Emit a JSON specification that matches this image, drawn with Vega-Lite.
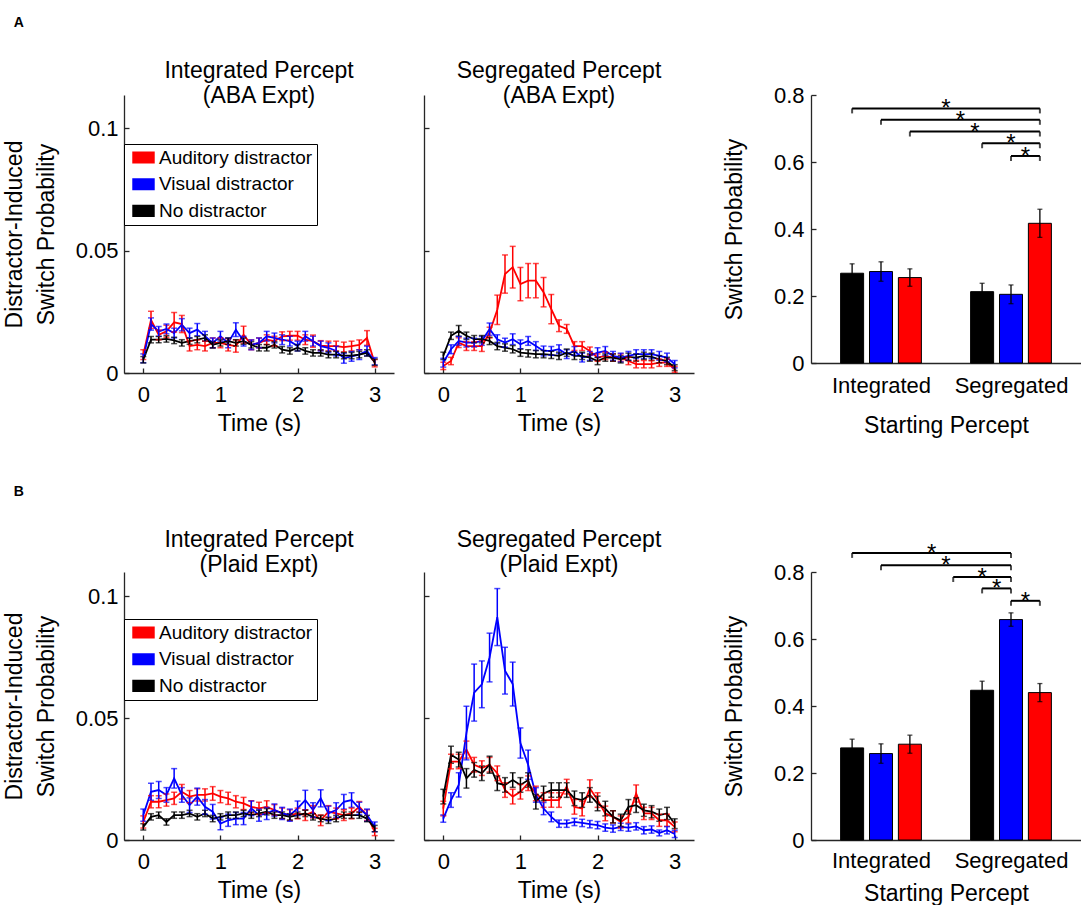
{
"$schema":"https://vega.github.io/schema/vega-lite/v6.json",
"padding":{"left":3,"top":16,"right":0,"bottom":0},
"config":{"font":"Liberation Sans","view":{"stroke":null},
"axis":{"domainColor":"#262626","tickColor":"#262626","labelColor":"black","titleColor":"black","labelFontSize":22,"titleFontSize":23,"titleFontWeight":"normal","grid":false,"tickSize":-5,"domainWidth":1.3,"tickWidth":1.3,"labelFlush":false},
"legend":{"orient":"none","legendX":0,"title":null,"strokeColor":"black","fillColor":"white","padding":4,"symbolOffset":6,"labelFontSize":19,"labelOffset":6,"rowPadding":6.7,"symbolType":"M-2,-0.9H2M-2,-0.6H2M-2,-0.3H2M-2,0H2M-2,0.3H2M-2,0.6H2M-2,0.9H2","symbolSize":126,"symbolStrokeWidth":2,"symbolOpacity":1,"labelColor":"black"},
"title":{"fontSize":23,"fontWeight":"normal","lineHeight":25,"color":"black"}},
"datasets":{
"A1":[
{"s":"Auditory distractor","t":0,"v":0.0075,"e":0.002},{"s":"Auditory distractor","t":0.1,"v":0.0217,"e":0.0035},{"s":"Auditory distractor","t":0.2,"v":0.0156,"e":0.002},{"s":"Auditory distractor","t":0.3,"v":0.017,"e":0.0025},{"s":"Auditory distractor","t":0.4,"v":0.0207,"e":0.004},{"s":"Auditory distractor","t":0.5,"v":0.02,"e":0.0035},{"s":"Auditory distractor","t":0.6,"v":0.011,"e":0.002},{"s":"Auditory distractor","t":0.7,"v":0.0115,"e":0.002},{"s":"Auditory distractor","t":0.8,"v":0.011,"e":0.002},{"s":"Auditory distractor","t":0.9,"v":0.0123,"e":0.002},{"s":"Auditory distractor","t":1,"v":0.0123,"e":0.002},{"s":"Auditory distractor","t":1.1,"v":0.0115,"e":0.0025},{"s":"Auditory distractor","t":1.2,"v":0.011,"e":0.0025},{"s":"Auditory distractor","t":1.3,"v":0.0156,"e":0.0035},{"s":"Auditory distractor","t":1.4,"v":0.0115,"e":0.002},{"s":"Auditory distractor","t":1.5,"v":0.0123,"e":0.002},{"s":"Auditory distractor","t":1.6,"v":0.0136,"e":0.002},{"s":"Auditory distractor","t":1.7,"v":0.013,"e":0.002},{"s":"Auditory distractor","t":1.8,"v":0.015,"e":0.0018},{"s":"Auditory distractor","t":1.9,"v":0.0152,"e":0.0018},{"s":"Auditory distractor","t":2,"v":0.0152,"e":0.0018},{"s":"Auditory distractor","t":2.1,"v":0.0136,"e":0.002},{"s":"Auditory distractor","t":2.2,"v":0.013,"e":0.0025},{"s":"Auditory distractor","t":2.3,"v":0.0112,"e":0.002},{"s":"Auditory distractor","t":2.4,"v":0.011,"e":0.002},{"s":"Auditory distractor","t":2.5,"v":0.011,"e":0.002},{"s":"Auditory distractor","t":2.6,"v":0.0106,"e":0.002},{"s":"Auditory distractor","t":2.7,"v":0.011,"e":0.002},{"s":"Auditory distractor","t":2.8,"v":0.0115,"e":0.002},{"s":"Auditory distractor","t":2.9,"v":0.0143,"e":0.003},{"s":"Auditory distractor","t":3,"v":0.004,"e":0.0015},
{"s":"Visual distractor","t":0,"v":0.006,"e":0.0018},{"s":"Visual distractor","t":0.1,"v":0.02,"e":0.0025},{"s":"Visual distractor","t":0.2,"v":0.017,"e":0.002},{"s":"Visual distractor","t":0.3,"v":0.018,"e":0.002},{"s":"Visual distractor","t":0.4,"v":0.0163,"e":0.002},{"s":"Visual distractor","t":0.5,"v":0.0197,"e":0.0025},{"s":"Visual distractor","t":0.6,"v":0.0163,"e":0.002},{"s":"Visual distractor","t":0.7,"v":0.0177,"e":0.0025},{"s":"Visual distractor","t":0.8,"v":0.015,"e":0.002},{"s":"Visual distractor","t":0.9,"v":0.0123,"e":0.002},{"s":"Visual distractor","t":1,"v":0.015,"e":0.002},{"s":"Visual distractor","t":1.1,"v":0.0123,"e":0.002},{"s":"Visual distractor","t":1.2,"v":0.0177,"e":0.0028},{"s":"Visual distractor","t":1.3,"v":0.013,"e":0.002},{"s":"Visual distractor","t":1.4,"v":0.0115,"e":0.002},{"s":"Visual distractor","t":1.5,"v":0.0123,"e":0.002},{"s":"Visual distractor","t":1.6,"v":0.015,"e":0.002},{"s":"Visual distractor","t":1.7,"v":0.0143,"e":0.002},{"s":"Visual distractor","t":1.8,"v":0.0136,"e":0.002},{"s":"Visual distractor","t":1.9,"v":0.013,"e":0.002},{"s":"Visual distractor","t":2,"v":0.011,"e":0.002},{"s":"Visual distractor","t":2.1,"v":0.015,"e":0.002},{"s":"Visual distractor","t":2.2,"v":0.013,"e":0.002},{"s":"Visual distractor","t":2.3,"v":0.011,"e":0.002},{"s":"Visual distractor","t":2.4,"v":0.0103,"e":0.002},{"s":"Visual distractor","t":2.5,"v":0.009,"e":0.002},{"s":"Visual distractor","t":2.6,"v":0.006,"e":0.002},{"s":"Visual distractor","t":2.7,"v":0.0068,"e":0.002},{"s":"Visual distractor","t":2.8,"v":0.0075,"e":0.002},{"s":"Visual distractor","t":2.9,"v":0.009,"e":0.002},{"s":"Visual distractor","t":3,"v":0.0048,"e":0.0015},
{"s":"No distractor","t":0,"v":0.0054,"e":0.0013},{"s":"No distractor","t":0.1,"v":0.0136,"e":0.0013},{"s":"No distractor","t":0.2,"v":0.0136,"e":0.0013},{"s":"No distractor","t":0.3,"v":0.0139,"e":0.0013},{"s":"No distractor","t":0.4,"v":0.0133,"e":0.0013},{"s":"No distractor","t":0.5,"v":0.0123,"e":0.0013},{"s":"No distractor","t":0.6,"v":0.013,"e":0.0013},{"s":"No distractor","t":0.7,"v":0.0136,"e":0.0013},{"s":"No distractor","t":0.8,"v":0.0143,"e":0.0013},{"s":"No distractor","t":0.9,"v":0.0115,"e":0.0013},{"s":"No distractor","t":1,"v":0.0123,"e":0.0013},{"s":"No distractor","t":1.1,"v":0.013,"e":0.0013},{"s":"No distractor","t":1.2,"v":0.0123,"e":0.0013},{"s":"No distractor","t":1.3,"v":0.013,"e":0.0013},{"s":"No distractor","t":1.4,"v":0.0115,"e":0.0013},{"s":"No distractor","t":1.5,"v":0.0103,"e":0.0013},{"s":"No distractor","t":1.6,"v":0.0103,"e":0.0013},{"s":"No distractor","t":1.7,"v":0.0115,"e":0.0013},{"s":"No distractor","t":1.8,"v":0.0095,"e":0.0013},{"s":"No distractor","t":1.9,"v":0.009,"e":0.0013},{"s":"No distractor","t":2,"v":0.0103,"e":0.0013},{"s":"No distractor","t":2.1,"v":0.009,"e":0.0013},{"s":"No distractor","t":2.2,"v":0.0082,"e":0.0013},{"s":"No distractor","t":2.3,"v":0.0082,"e":0.0013},{"s":"No distractor","t":2.4,"v":0.0075,"e":0.0013},{"s":"No distractor","t":2.5,"v":0.0075,"e":0.0013},{"s":"No distractor","t":2.6,"v":0.0071,"e":0.0013},{"s":"No distractor","t":2.7,"v":0.0071,"e":0.0013},{"s":"No distractor","t":2.8,"v":0.0075,"e":0.0013},{"s":"No distractor","t":2.9,"v":0.0082,"e":0.0013},{"s":"No distractor","t":3,"v":0.0044,"e":0.0013}
],
"A2":[
{"s":"Auditory distractor","t":0,"v":0.0029,"e":0.0015},{"s":"Auditory distractor","t":0.1,"v":0.0049,"e":0.0015},{"s":"Auditory distractor","t":0.2,"v":0.0124,"e":0.002},{"s":"Auditory distractor","t":0.3,"v":0.011,"e":0.0018},{"s":"Auditory distractor","t":0.4,"v":0.011,"e":0.0018},{"s":"Auditory distractor","t":0.5,"v":0.011,"e":0.0022},{"s":"Auditory distractor","t":0.6,"v":0.0165,"e":0.0022},{"s":"Auditory distractor","t":0.7,"v":0.0258,"e":0.006},{"s":"Auditory distractor","t":0.8,"v":0.0404,"e":0.0078},{"s":"Auditory distractor","t":0.9,"v":0.0432,"e":0.0085},{"s":"Auditory distractor","t":1,"v":0.0363,"e":0.0068},{"s":"Auditory distractor","t":1.1,"v":0.0377,"e":0.007},{"s":"Auditory distractor","t":1.2,"v":0.0377,"e":0.007},{"s":"Auditory distractor","t":1.3,"v":0.033,"e":0.006},{"s":"Auditory distractor","t":1.4,"v":0.0261,"e":0.006},{"s":"Auditory distractor","t":1.5,"v":0.0193,"e":0.0024},{"s":"Auditory distractor","t":1.6,"v":0.018,"e":0.0018},{"s":"Auditory distractor","t":1.7,"v":0.011,"e":0.0018},{"s":"Auditory distractor","t":1.8,"v":0.011,"e":0.0018},{"s":"Auditory distractor","t":1.9,"v":0.009,"e":0.0016},{"s":"Auditory distractor","t":2,"v":0.0063,"e":0.0015},{"s":"Auditory distractor","t":2.1,"v":0.007,"e":0.0015},{"s":"Auditory distractor","t":2.2,"v":0.0063,"e":0.0015},{"s":"Auditory distractor","t":2.3,"v":0.0063,"e":0.0015},{"s":"Auditory distractor","t":2.4,"v":0.0049,"e":0.0015},{"s":"Auditory distractor","t":2.5,"v":0.0036,"e":0.0015},{"s":"Auditory distractor","t":2.6,"v":0.0036,"e":0.0015},{"s":"Auditory distractor","t":2.7,"v":0.0036,"e":0.0015},{"s":"Auditory distractor","t":2.8,"v":0.0042,"e":0.0015},{"s":"Auditory distractor","t":2.9,"v":0.0042,"e":0.0015},{"s":"Auditory distractor","t":3,"v":0.0015,"e":0.0012},
{"s":"Visual distractor","t":0,"v":0.0042,"e":0.0018},{"s":"Visual distractor","t":0.1,"v":0.0097,"e":0.0018},{"s":"Visual distractor","t":0.2,"v":0.0131,"e":0.0018},{"s":"Visual distractor","t":0.3,"v":0.0124,"e":0.0018},{"s":"Visual distractor","t":0.4,"v":0.0124,"e":0.0018},{"s":"Visual distractor","t":0.5,"v":0.0131,"e":0.0018},{"s":"Visual distractor","t":0.6,"v":0.0179,"e":0.0025},{"s":"Visual distractor","t":0.7,"v":0.0138,"e":0.0018},{"s":"Visual distractor","t":0.8,"v":0.0124,"e":0.0018},{"s":"Visual distractor","t":0.9,"v":0.0138,"e":0.0022},{"s":"Visual distractor","t":1,"v":0.0117,"e":0.0018},{"s":"Visual distractor","t":1.1,"v":0.0131,"e":0.0018},{"s":"Visual distractor","t":1.2,"v":0.011,"e":0.0018},{"s":"Visual distractor","t":1.3,"v":0.009,"e":0.002},{"s":"Visual distractor","t":1.4,"v":0.009,"e":0.0018},{"s":"Visual distractor","t":1.5,"v":0.0097,"e":0.0018},{"s":"Visual distractor","t":1.6,"v":0.0077,"e":0.0018},{"s":"Visual distractor","t":1.7,"v":0.009,"e":0.0018},{"s":"Visual distractor","t":1.8,"v":0.0063,"e":0.0018},{"s":"Visual distractor","t":1.9,"v":0.007,"e":0.0018},{"s":"Visual distractor","t":2,"v":0.0083,"e":0.002},{"s":"Visual distractor","t":2.1,"v":0.009,"e":0.0018},{"s":"Visual distractor","t":2.2,"v":0.007,"e":0.0018},{"s":"Visual distractor","t":2.3,"v":0.0063,"e":0.0018},{"s":"Visual distractor","t":2.4,"v":0.007,"e":0.0018},{"s":"Visual distractor","t":2.5,"v":0.0077,"e":0.0018},{"s":"Visual distractor","t":2.6,"v":0.0077,"e":0.0018},{"s":"Visual distractor","t":2.7,"v":0.0077,"e":0.0018},{"s":"Visual distractor","t":2.8,"v":0.007,"e":0.0018},{"s":"Visual distractor","t":2.9,"v":0.0063,"e":0.0018},{"s":"Visual distractor","t":3,"v":0.0036,"e":0.0015},
{"s":"No distractor","t":0,"v":0.007,"e":0.0015},{"s":"No distractor","t":0.1,"v":0.0152,"e":0.0015},{"s":"No distractor","t":0.2,"v":0.0172,"e":0.0022},{"s":"No distractor","t":0.3,"v":0.0152,"e":0.0015},{"s":"No distractor","t":0.4,"v":0.0138,"e":0.0015},{"s":"No distractor","t":0.5,"v":0.0138,"e":0.0015},{"s":"No distractor","t":0.6,"v":0.0131,"e":0.0015},{"s":"No distractor","t":0.7,"v":0.011,"e":0.0015},{"s":"No distractor","t":0.8,"v":0.0104,"e":0.0015},{"s":"No distractor","t":0.9,"v":0.0097,"e":0.0015},{"s":"No distractor","t":1,"v":0.0083,"e":0.0015},{"s":"No distractor","t":1.1,"v":0.008,"e":0.0015},{"s":"No distractor","t":1.2,"v":0.0077,"e":0.0015},{"s":"No distractor","t":1.3,"v":0.0077,"e":0.0015},{"s":"No distractor","t":1.4,"v":0.0074,"e":0.0015},{"s":"No distractor","t":1.5,"v":0.007,"e":0.0015},{"s":"No distractor","t":1.6,"v":0.0083,"e":0.0015},{"s":"No distractor","t":1.7,"v":0.007,"e":0.0015},{"s":"No distractor","t":1.8,"v":0.007,"e":0.0015},{"s":"No distractor","t":1.9,"v":0.0063,"e":0.0015},{"s":"No distractor","t":2,"v":0.0049,"e":0.0015},{"s":"No distractor","t":2.1,"v":0.0063,"e":0.0015},{"s":"No distractor","t":2.2,"v":0.0063,"e":0.0015},{"s":"No distractor","t":2.3,"v":0.0056,"e":0.0015},{"s":"No distractor","t":2.4,"v":0.0066,"e":0.0015},{"s":"No distractor","t":2.5,"v":0.0063,"e":0.0015},{"s":"No distractor","t":2.6,"v":0.007,"e":0.0015},{"s":"No distractor","t":2.7,"v":0.0066,"e":0.0015},{"s":"No distractor","t":2.8,"v":0.0056,"e":0.0015},{"s":"No distractor","t":2.9,"v":0.0049,"e":0.0015},{"s":"No distractor","t":3,"v":0.0022,"e":0.0012}
],
"B1":[
{"s":"Auditory distractor","t":0,"v":0.0074,"e":0.0025},{"s":"Auditory distractor","t":0.1,"v":0.0157,"e":0.0025},{"s":"Auditory distractor","t":0.2,"v":0.0157,"e":0.0025},{"s":"Auditory distractor","t":0.3,"v":0.0164,"e":0.0025},{"s":"Auditory distractor","t":0.4,"v":0.0171,"e":0.0025},{"s":"Auditory distractor","t":0.5,"v":0.0198,"e":0.003},{"s":"Auditory distractor","t":0.6,"v":0.0178,"e":0.0025},{"s":"Auditory distractor","t":0.7,"v":0.0185,"e":0.0025},{"s":"Auditory distractor","t":0.8,"v":0.0185,"e":0.0025},{"s":"Auditory distractor","t":0.9,"v":0.0191,"e":0.0028},{"s":"Auditory distractor","t":1,"v":0.0178,"e":0.0025},{"s":"Auditory distractor","t":1.1,"v":0.0171,"e":0.0025},{"s":"Auditory distractor","t":1.2,"v":0.0157,"e":0.0025},{"s":"Auditory distractor","t":1.3,"v":0.015,"e":0.0025},{"s":"Auditory distractor","t":1.4,"v":0.0136,"e":0.0025},{"s":"Auditory distractor","t":1.5,"v":0.013,"e":0.0025},{"s":"Auditory distractor","t":1.6,"v":0.0136,"e":0.0025},{"s":"Auditory distractor","t":1.7,"v":0.0123,"e":0.0022},{"s":"Auditory distractor","t":1.8,"v":0.0109,"e":0.0022},{"s":"Auditory distractor","t":1.9,"v":0.0102,"e":0.0022},{"s":"Auditory distractor","t":2,"v":0.0109,"e":0.0022},{"s":"Auditory distractor","t":2.1,"v":0.0102,"e":0.0022},{"s":"Auditory distractor","t":2.2,"v":0.0116,"e":0.0025},{"s":"Auditory distractor","t":2.3,"v":0.0081,"e":0.0022},{"s":"Auditory distractor","t":2.4,"v":0.0116,"e":0.0025},{"s":"Auditory distractor","t":2.5,"v":0.0109,"e":0.0022},{"s":"Auditory distractor","t":2.6,"v":0.0102,"e":0.0022},{"s":"Auditory distractor","t":2.7,"v":0.0109,"e":0.0022},{"s":"Auditory distractor","t":2.8,"v":0.0136,"e":0.0022},{"s":"Auditory distractor","t":2.9,"v":0.0102,"e":0.0022},{"s":"Auditory distractor","t":3,"v":0.0033,"e":0.0015},
{"s":"Visual distractor","t":0,"v":0.0102,"e":0.0025},{"s":"Visual distractor","t":0.1,"v":0.0198,"e":0.0035},{"s":"Visual distractor","t":0.2,"v":0.0205,"e":0.0035},{"s":"Visual distractor","t":0.3,"v":0.0185,"e":0.003},{"s":"Visual distractor","t":0.4,"v":0.0253,"e":0.004},{"s":"Visual distractor","t":0.5,"v":0.0185,"e":0.003},{"s":"Visual distractor","t":0.6,"v":0.0143,"e":0.003},{"s":"Visual distractor","t":0.7,"v":0.0178,"e":0.0035},{"s":"Visual distractor","t":0.8,"v":0.0136,"e":0.003},{"s":"Visual distractor","t":0.9,"v":0.0116,"e":0.003},{"s":"Visual distractor","t":1,"v":0.0067,"e":0.0025},{"s":"Visual distractor","t":1.1,"v":0.0081,"e":0.0025},{"s":"Visual distractor","t":1.2,"v":0.0088,"e":0.0025},{"s":"Visual distractor","t":1.3,"v":0.0088,"e":0.0025},{"s":"Visual distractor","t":1.4,"v":0.013,"e":0.003},{"s":"Visual distractor","t":1.5,"v":0.0102,"e":0.0025},{"s":"Visual distractor","t":1.6,"v":0.0109,"e":0.0025},{"s":"Visual distractor","t":1.7,"v":0.0123,"e":0.0025},{"s":"Visual distractor","t":1.8,"v":0.0109,"e":0.0025},{"s":"Visual distractor","t":1.9,"v":0.0102,"e":0.0025},{"s":"Visual distractor","t":2,"v":0.013,"e":0.003},{"s":"Visual distractor","t":2.1,"v":0.0164,"e":0.004},{"s":"Visual distractor","t":2.2,"v":0.0123,"e":0.003},{"s":"Visual distractor","t":2.3,"v":0.0171,"e":0.0035},{"s":"Visual distractor","t":2.4,"v":0.0109,"e":0.003},{"s":"Visual distractor","t":2.5,"v":0.0123,"e":0.003},{"s":"Visual distractor","t":2.6,"v":0.0157,"e":0.003},{"s":"Visual distractor","t":2.7,"v":0.0164,"e":0.003},{"s":"Visual distractor","t":2.8,"v":0.013,"e":0.0025},{"s":"Visual distractor","t":2.9,"v":0.0102,"e":0.0025},{"s":"Visual distractor","t":3,"v":0.0054,"e":0.002},
{"s":"No distractor","t":0,"v":0.0054,"e":0.0013},{"s":"No distractor","t":0.1,"v":0.0095,"e":0.0013},{"s":"No distractor","t":0.2,"v":0.0102,"e":0.0013},{"s":"No distractor","t":0.3,"v":0.0074,"e":0.0013},{"s":"No distractor","t":0.4,"v":0.0102,"e":0.0013},{"s":"No distractor","t":0.5,"v":0.0102,"e":0.0013},{"s":"No distractor","t":0.6,"v":0.0109,"e":0.0013},{"s":"No distractor","t":0.7,"v":0.0095,"e":0.0013},{"s":"No distractor","t":0.8,"v":0.0109,"e":0.0013},{"s":"No distractor","t":0.9,"v":0.0088,"e":0.0013},{"s":"No distractor","t":1,"v":0.0095,"e":0.0013},{"s":"No distractor","t":1.1,"v":0.0102,"e":0.0013},{"s":"No distractor","t":1.2,"v":0.0102,"e":0.0013},{"s":"No distractor","t":1.3,"v":0.0109,"e":0.0013},{"s":"No distractor","t":1.4,"v":0.0102,"e":0.0013},{"s":"No distractor","t":1.5,"v":0.0109,"e":0.0013},{"s":"No distractor","t":1.6,"v":0.0116,"e":0.0013},{"s":"No distractor","t":1.7,"v":0.0102,"e":0.0013},{"s":"No distractor","t":1.8,"v":0.0102,"e":0.0013},{"s":"No distractor","t":1.9,"v":0.0095,"e":0.0013},{"s":"No distractor","t":2,"v":0.0102,"e":0.0013},{"s":"No distractor","t":2.1,"v":0.0109,"e":0.0013},{"s":"No distractor","t":2.2,"v":0.0095,"e":0.0013},{"s":"No distractor","t":2.3,"v":0.0088,"e":0.0013},{"s":"No distractor","t":2.4,"v":0.0081,"e":0.0013},{"s":"No distractor","t":2.5,"v":0.0088,"e":0.0013},{"s":"No distractor","t":2.6,"v":0.0102,"e":0.0013},{"s":"No distractor","t":2.7,"v":0.0102,"e":0.0013},{"s":"No distractor","t":2.8,"v":0.0102,"e":0.0013},{"s":"No distractor","t":2.9,"v":0.0088,"e":0.0013},{"s":"No distractor","t":3,"v":0.0047,"e":0.0013}
],
"B2":[
{"s":"Auditory distractor","t":0,"v":0.0129,"e":0.003},{"s":"Auditory distractor","t":0.1,"v":0.0322,"e":0.003},{"s":"Auditory distractor","t":0.2,"v":0.0322,"e":0.003},{"s":"Auditory distractor","t":0.3,"v":0.0371,"e":0.0035},{"s":"Auditory distractor","t":0.4,"v":0.0309,"e":0.003},{"s":"Auditory distractor","t":0.5,"v":0.0295,"e":0.003},{"s":"Auditory distractor","t":0.6,"v":0.0309,"e":0.003},{"s":"Auditory distractor","t":0.7,"v":0.0274,"e":0.003},{"s":"Auditory distractor","t":0.8,"v":0.0205,"e":0.003},{"s":"Auditory distractor","t":0.9,"v":0.0178,"e":0.003},{"s":"Auditory distractor","t":1,"v":0.0198,"e":0.003},{"s":"Auditory distractor","t":1.1,"v":0.0233,"e":0.003},{"s":"Auditory distractor","t":1.2,"v":0.0191,"e":0.003},{"s":"Auditory distractor","t":1.3,"v":0.0164,"e":0.003},{"s":"Auditory distractor","t":1.4,"v":0.0164,"e":0.003},{"s":"Auditory distractor","t":1.5,"v":0.0164,"e":0.003},{"s":"Auditory distractor","t":1.6,"v":0.0219,"e":0.003},{"s":"Auditory distractor","t":1.7,"v":0.0136,"e":0.003},{"s":"Auditory distractor","t":1.8,"v":0.0129,"e":0.003},{"s":"Auditory distractor","t":1.9,"v":0.0212,"e":0.0035},{"s":"Auditory distractor","t":2,"v":0.0164,"e":0.003},{"s":"Auditory distractor","t":2.1,"v":0.0109,"e":0.003},{"s":"Auditory distractor","t":2.2,"v":0.0095,"e":0.0025},{"s":"Auditory distractor","t":2.3,"v":0.0074,"e":0.0025},{"s":"Auditory distractor","t":2.4,"v":0.0095,"e":0.0025},{"s":"Auditory distractor","t":2.5,"v":0.0191,"e":0.0035},{"s":"Auditory distractor","t":2.6,"v":0.0109,"e":0.0025},{"s":"Auditory distractor","t":2.7,"v":0.0109,"e":0.0025},{"s":"Auditory distractor","t":2.8,"v":0.0081,"e":0.0025},{"s":"Auditory distractor","t":2.9,"v":0.0081,"e":0.0025},{"s":"Auditory distractor","t":3,"v":0.0054,"e":0.002},
{"s":"Visual distractor","t":0,"v":0.0088,"e":0.0015},{"s":"Visual distractor","t":0.1,"v":0.0164,"e":0.003},{"s":"Visual distractor","t":0.2,"v":0.0226,"e":0.005},{"s":"Visual distractor","t":0.3,"v":0.0439,"e":0.011},{"s":"Visual distractor","t":0.4,"v":0.0605,"e":0.0117},{"s":"Visual distractor","t":0.5,"v":0.0639,"e":0.0096},{"s":"Visual distractor","t":0.6,"v":0.0749,"e":0.01},{"s":"Visual distractor","t":0.7,"v":0.0915,"e":0.0117},{"s":"Visual distractor","t":0.8,"v":0.0695,"e":0.0096},{"s":"Visual distractor","t":0.9,"v":0.064,"e":0.009},{"s":"Visual distractor","t":1,"v":0.0398,"e":0.0062},{"s":"Visual distractor","t":1.1,"v":0.0309,"e":0.006},{"s":"Visual distractor","t":1.2,"v":0.0185,"e":0.003},{"s":"Visual distractor","t":1.3,"v":0.0129,"e":0.0025},{"s":"Visual distractor","t":1.4,"v":0.0095,"e":0.002},{"s":"Visual distractor","t":1.5,"v":0.0067,"e":0.0015},{"s":"Visual distractor","t":1.6,"v":0.0067,"e":0.0015},{"s":"Visual distractor","t":1.7,"v":0.0074,"e":0.0015},{"s":"Visual distractor","t":1.8,"v":0.007,"e":0.0015},{"s":"Visual distractor","t":1.9,"v":0.0065,"e":0.0015},{"s":"Visual distractor","t":2,"v":0.0061,"e":0.0015},{"s":"Visual distractor","t":2.1,"v":0.0051,"e":0.0015},{"s":"Visual distractor","t":2.2,"v":0.0047,"e":0.0015},{"s":"Visual distractor","t":2.3,"v":0.0054,"e":0.0015},{"s":"Visual distractor","t":2.4,"v":0.0051,"e":0.0015},{"s":"Visual distractor","t":2.5,"v":0.0056,"e":0.0015},{"s":"Visual distractor","t":2.6,"v":0.004,"e":0.0015},{"s":"Visual distractor","t":2.7,"v":0.0043,"e":0.0015},{"s":"Visual distractor","t":2.8,"v":0.0029,"e":0.0012},{"s":"Visual distractor","t":2.9,"v":0.004,"e":0.0015},{"s":"Visual distractor","t":3,"v":0.0025,"e":0.0015},
{"s":"No distractor","t":0,"v":0.0178,"e":0.003},{"s":"No distractor","t":0.1,"v":0.035,"e":0.0035},{"s":"No distractor","t":0.2,"v":0.033,"e":0.003},{"s":"No distractor","t":0.3,"v":0.0253,"e":0.004},{"s":"No distractor","t":0.4,"v":0.0288,"e":0.003},{"s":"No distractor","t":0.5,"v":0.0274,"e":0.003},{"s":"No distractor","t":0.6,"v":0.0309,"e":0.0035},{"s":"No distractor","t":0.7,"v":0.0233,"e":0.003},{"s":"No distractor","t":0.8,"v":0.0226,"e":0.003},{"s":"No distractor","t":0.9,"v":0.0246,"e":0.003},{"s":"No distractor","t":1,"v":0.0226,"e":0.003},{"s":"No distractor","t":1.1,"v":0.0246,"e":0.003},{"s":"No distractor","t":1.2,"v":0.0157,"e":0.003},{"s":"No distractor","t":1.3,"v":0.0191,"e":0.003},{"s":"No distractor","t":1.4,"v":0.0205,"e":0.003},{"s":"No distractor","t":1.5,"v":0.0205,"e":0.003},{"s":"No distractor","t":1.6,"v":0.0205,"e":0.003},{"s":"No distractor","t":1.7,"v":0.0171,"e":0.003},{"s":"No distractor","t":1.8,"v":0.0164,"e":0.003},{"s":"No distractor","t":1.9,"v":0.0185,"e":0.003},{"s":"No distractor","t":2,"v":0.015,"e":0.003},{"s":"No distractor","t":2.1,"v":0.0129,"e":0.003},{"s":"No distractor","t":2.2,"v":0.0095,"e":0.0025},{"s":"No distractor","t":2.3,"v":0.0081,"e":0.0025},{"s":"No distractor","t":2.4,"v":0.0136,"e":0.003},{"s":"No distractor","t":2.5,"v":0.0143,"e":0.003},{"s":"No distractor","t":2.6,"v":0.0122,"e":0.0025},{"s":"No distractor","t":2.7,"v":0.0116,"e":0.0025},{"s":"No distractor","t":2.8,"v":0.0102,"e":0.0025},{"s":"No distractor","t":2.9,"v":0.0109,"e":0.0025},{"s":"No distractor","t":3,"v":0.0067,"e":0.002}
],
"barA":[
{"g":"Integrated","s":"No distractor","pos":1,"v":0.268,"e":0.028},{"g":"Integrated","s":"Visual distractor","pos":2,"v":0.273,"e":0.029},{"g":"Integrated","s":"Auditory distractor","pos":3,"v":0.255,"e":0.026},
{"g":"Segregated","s":"No distractor","pos":5.5,"v":0.213,"e":0.025},{"g":"Segregated","s":"Visual distractor","pos":6.5,"v":0.205,"e":0.028},{"g":"Segregated","s":"Auditory distractor","pos":7.5,"v":0.417,"e":0.042}
],
"barB":[
{"g":"Integrated","s":"No distractor","pos":1,"v":0.275,"e":0.026},{"g":"Integrated","s":"Visual distractor","pos":2,"v":0.258,"e":0.029},{"g":"Integrated","s":"Auditory distractor","pos":3,"v":0.286,"e":0.027},
{"g":"Segregated","s":"No distractor","pos":5.5,"v":0.447,"e":0.027},{"g":"Segregated","s":"Visual distractor","pos":6.5,"v":0.658,"e":0.02},{"g":"Segregated","s":"Auditory distractor","pos":7.5,"v":0.44,"e":0.027}
],
"brA":[
{"x1":1,"x2":7.5,"m":4.25,"y":0.76},{"x1":2,"x2":7.5,"m":4.75,"y":0.726},{"x1":3,"x2":7.5,"m":5.25,"y":0.691},{"x1":5.5,"x2":7.5,"m":6.5,"y":0.656},{"x1":6.5,"x2":7.5,"m":7,"y":0.618}
],
"brB":[
{"x1":1,"x2":6.5,"m":3.75,"y":0.857},{"x1":2,"x2":6.5,"m":4.25,"y":0.82},{"x1":4.5,"x2":6.5,"m":5.5,"y":0.785},{"x1":5.5,"x2":6.5,"m":6,"y":0.751},{"x1":6.5,"x2":7.5,"m":7,"y":0.714}
]
},
"resolve":{"scale":{"color":"independent"},"legend":{"color":"independent"}},
"spacing":48,
"vconcat":[
{"title":{"text":"A","anchor":"start","fontSize":14,"fontWeight":"bold","offset":30,"dx":10},
"spacing":29,
"resolve":{"scale":{"color":"independent"},"legend":{"color":"independent"}},
"hconcat":[
{"width":270,"height":278,"title":{"text":["Integrated Percept","(ABA Expt)"],"offset":-13},
"data":{"name":"A1"},
"encoding":{
"x":{"field":"t","type":"quantitative","scale":{"domain":[-0.25,3.25],"nice":false},"axis":{"values":[0,1,2,3],"format":"d","title":"Time (s)","labelPadding":16,"titlePadding":7}},
"y":{"field":"v","type":"quantitative","scale":{"domain":[0,0.1135],"nice":false},"axis":{"values":[0,0.05,0.1],"format":".2~f","title":["Distractor-Induced","Switch Probability"],"titleLineHeight":31.5,"labelPadding":11,"titlePadding":17}},
"color":{"field":"s","type":"nominal","scale":{"domain":["Auditory distractor","Visual distractor","No distractor"],"range":["#ff0000","#0000ff","#000000"]},
"legend":{"legendY":49}}},
"layer":[
{"mark":{"type":"line","strokeWidth":1.8}},
{"mark":{"type":"errorbar","ticks":{"size":6},"thickness":1.5},"encoding":{"yError":{"field":"e"}}}
]},
{"width":270,"height":278,"title":{"text":["Segregated Percept","(ABA Expt)"],"offset":-13},
"data":{"name":"A2"},
"encoding":{
"x":{"field":"t","type":"quantitative","scale":{"domain":[-0.25,3.25],"nice":false},"axis":{"values":[0,1,2,3],"format":"d","title":"Time (s)","labelPadding":16,"titlePadding":7}},
"y":{"field":"v","type":"quantitative","scale":{"domain":[0,0.1135],"nice":false},"axis":{"values":[0,0.05,0.1],"labels":false,"title":null}},
"color":{"field":"s","type":"nominal","scale":{"domain":["Auditory distractor","Visual distractor","No distractor"],"range":["#ff0000","#0000ff","#000000"]},"legend":null}},
"layer":[
{"mark":{"type":"line","strokeWidth":1.8}},
{"mark":{"type":"errorbar","ticks":{"size":6},"thickness":1.5},"encoding":{"yError":{"field":"e"}}}
]},
{"width":270,"height":268,
"layer":[
{"data":{"name":"barA"},"mark":{"type":"bar","size":23,"stroke":"black","strokeWidth":1},
"encoding":{"x":{"field":"pos","type":"quantitative","scale":{"domain":[-0.25,8.75],"nice":false},"axis":{"values":[2,6.5],"labelExpr":"datum.value == 2 ? 'Integrated' : 'Segregated'","ticks":false,"title":"Starting Percept","labelPadding":12,"titlePadding":18}},
"y":{"field":"v","type":"quantitative","scale":{"domain":[0,0.8],"nice":false},"axis":{"values":[0,0.2,0.4,0.6,0.8],"format":".1~f","title":"Switch Probability","labelPadding":12,"titlePadding":27}},
"color":{"field":"s","type":"nominal","scale":{"domain":["Auditory distractor","Visual distractor","No distractor"],"range":["#ff0000","#0000ff","#000000"]},"legend":null}}},
{"data":{"name":"barA"},"mark":{"type":"errorbar","ticks":{"size":5},"color":"black","thickness":1.3},
"encoding":{"x":{"field":"pos","type":"quantitative","title":"Starting Percept"},"y":{"field":"v","type":"quantitative","title":"Switch Probability"},"yError":{"field":"e"}}},
{"data":{"name":"brA"},"mark":{"type":"rule","color":"black","strokeWidth":2},
"encoding":{"x":{"field":"x1","type":"quantitative","title":"Starting Percept"},"x2":{"field":"x2"},"y":{"field":"y","type":"quantitative","title":"Switch Probability"}}},
{"data":{"name":"brA"},"mark":{"type":"tick","orient":"vertical","size":5,"thickness":2,"yOffset":2.5,"color":"black"},
"encoding":{"x":{"field":"x1","type":"quantitative","title":"Starting Percept"},"y":{"field":"y","type":"quantitative","title":"Switch Probability"}}},
{"data":{"name":"brA"},"mark":{"type":"tick","orient":"vertical","size":5,"thickness":2,"yOffset":2.5,"color":"black"},
"encoding":{"x":{"field":"x2","type":"quantitative","title":"Starting Percept"},"y":{"field":"y","type":"quantitative","title":"Switch Probability"}}},
{"data":{"name":"brA"},"mark":{"type":"text","text":"*","fontSize":24,"dy":8,"baseline":"alphabetic","color":"black"},
"encoding":{"x":{"field":"m","type":"quantitative","title":"Starting Percept"},"y":{"field":"y","type":"quantitative","title":"Switch Probability"}}}
]}
]},
{"title":{"text":"B","anchor":"start","fontSize":14,"fontWeight":"bold","offset":30,"dx":10},
"spacing":29,
"resolve":{"scale":{"color":"independent"},"legend":{"color":"independent"}},
"hconcat":[
{"width":270,"height":268,"title":{"text":["Integrated Percept","(Plaid Expt)"],"offset":-5},
"data":{"name":"B1"},
"encoding":{
"x":{"field":"t","type":"quantitative","scale":{"domain":[-0.25,3.25],"nice":false},"axis":{"values":[0,1,2,3],"format":"d","title":"Time (s)","labelPadding":16,"titlePadding":7}},
"y":{"field":"v","type":"quantitative","scale":{"domain":[0,0.11],"nice":false},"axis":{"values":[0,0.05,0.1],"format":".2~f","title":["Distractor-Induced","Switch Probability"],"titleLineHeight":31.5,"labelPadding":11,"titlePadding":17}},
"color":{"field":"s","type":"nominal","scale":{"domain":["Auditory distractor","Visual distractor","No distractor"],"range":["#ff0000","#0000ff","#000000"]},
"legend":{"legendY":47}}},
"layer":[
{"mark":{"type":"line","strokeWidth":1.8}},
{"mark":{"type":"errorbar","ticks":{"size":6},"thickness":1.5},"encoding":{"yError":{"field":"e"}}}
]},
{"width":270,"height":268,"title":{"text":["Segregated Percept","(Plaid Expt)"],"offset":-5},
"data":{"name":"B2"},
"encoding":{
"x":{"field":"t","type":"quantitative","scale":{"domain":[-0.25,3.25],"nice":false},"axis":{"values":[0,1,2,3],"format":"d","title":"Time (s)","labelPadding":16,"titlePadding":7}},
"y":{"field":"v","type":"quantitative","scale":{"domain":[0,0.11],"nice":false},"axis":{"values":[0,0.05,0.1],"labels":false,"title":null}},
"color":{"field":"s","type":"nominal","scale":{"domain":["Auditory distractor","Visual distractor","No distractor"],"range":["#ff0000","#0000ff","#000000"]},"legend":null}},
"layer":[
{"mark":{"type":"line","strokeWidth":1.8}},
{"mark":{"type":"errorbar","ticks":{"size":6},"thickness":1.5},"encoding":{"yError":{"field":"e"}}}
]},
{"width":270,"height":268,
"layer":[
{"data":{"name":"barB"},"mark":{"type":"bar","size":23,"stroke":"black","strokeWidth":1},
"encoding":{"x":{"field":"pos","type":"quantitative","scale":{"domain":[-0.25,8.75],"nice":false},"axis":{"values":[2,6.5],"labelExpr":"datum.value == 2 ? 'Integrated' : 'Segregated'","ticks":false,"title":"Starting Percept","labelPadding":10,"titlePadding":11}},
"y":{"field":"v","type":"quantitative","scale":{"domain":[0,0.8],"nice":false},"axis":{"values":[0,0.2,0.4,0.6,0.8],"format":".1~f","title":"Switch Probability","labelPadding":12,"titlePadding":27}},
"color":{"field":"s","type":"nominal","scale":{"domain":["Auditory distractor","Visual distractor","No distractor"],"range":["#ff0000","#0000ff","#000000"]},"legend":null}}},
{"data":{"name":"barB"},"mark":{"type":"errorbar","ticks":{"size":5},"color":"black","thickness":1.3},
"encoding":{"x":{"field":"pos","type":"quantitative","title":"Starting Percept"},"y":{"field":"v","type":"quantitative","title":"Switch Probability"},"yError":{"field":"e"}}},
{"data":{"name":"brB"},"mark":{"type":"rule","color":"black","strokeWidth":2},
"encoding":{"x":{"field":"x1","type":"quantitative","title":"Starting Percept"},"x2":{"field":"x2"},"y":{"field":"y","type":"quantitative","title":"Switch Probability"}}},
{"data":{"name":"brB"},"mark":{"type":"tick","orient":"vertical","size":5,"thickness":2,"yOffset":2.5,"color":"black"},
"encoding":{"x":{"field":"x1","type":"quantitative","title":"Starting Percept"},"y":{"field":"y","type":"quantitative","title":"Switch Probability"}}},
{"data":{"name":"brB"},"mark":{"type":"tick","orient":"vertical","size":5,"thickness":2,"yOffset":2.5,"color":"black"},
"encoding":{"x":{"field":"x2","type":"quantitative","title":"Starting Percept"},"y":{"field":"y","type":"quantitative","title":"Switch Probability"}}},
{"data":{"name":"brB"},"mark":{"type":"text","text":"*","fontSize":24,"dy":8,"baseline":"alphabetic","color":"black"},
"encoding":{"x":{"field":"m","type":"quantitative","title":"Starting Percept"},"y":{"field":"y","type":"quantitative","title":"Switch Probability"}}}
]}
]}
]
}
